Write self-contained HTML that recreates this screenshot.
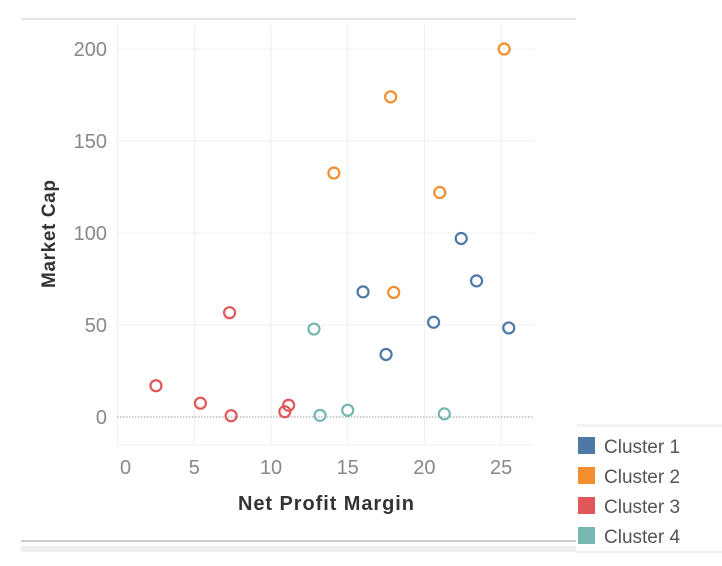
<!DOCTYPE html>
<html><head><meta charset="utf-8"><style>
body{margin:0;background:#fff;width:722px;height:561px;overflow:hidden;font-family:"Liberation Sans",sans-serif}
</style></head><body>
<svg width="722" height="561" xmlns="http://www.w3.org/2000/svg">
<line x1="21" y1="19" x2="576" y2="19" stroke="#dcdcdc" stroke-width="1.5"/>
<line x1="21" y1="541" x2="576" y2="541" stroke="#bbb" stroke-width="1.5"/>
<rect x="21" y="546" width="555" height="6" fill="#eee"/>
<rect x="577" y="424" width="145" height="3" fill="#f2f2f2"/>
<line x1="577" y1="552" x2="722" y2="552" stroke="#ddd"/>
<g id="grid"></g>
<g id="axes"></g>
<g id="marks"></g>
<text x="326" y="510" font-size="20" fill="#333" text-anchor="middle" font-weight="bold" textLength="176">Net Profit Margin</text>
<text transform="translate(55,234) rotate(-90)" font-size="19" fill="#333" text-anchor="middle" font-weight="bold" textLength="108">Market Cap</text>
<g id="legend"></g>
</svg>
<script>
const clusterNames=["Cluster 1","Cluster 2","Cluster 3","Cluster 4"];
const clusterColors=["#4e79a7","#f28e2b","#e15759","#76b7b2"];
const c1x=[16.0,17.5,20.6,22.4,23.4,25.5];
const c1y=[68,34,51.5,97,74,48.4];
const c2x=[14.1,17.8,18.0,21.0,25.2];
const c2y=[132.6,174,67.7,122,200];
const c3x=[2.5,5.4,7.3,7.4,10.9,11.15];
const c3y=[17,7.5,56.7,0.7,2.9,6.4];
const c4x=[12.8,13.2,15.0,21.3];
const c4y=[47.8,0.9,3.7,1.7];
const xTicks=[0,5,10,15,20,25];
const yTicks=[0,50,100,150,200];
const NS="http://www.w3.org/2000/svg";
function X(v){return 117.6+v*15.34;}
function Y(v){return 417-v*1.84;}
function mk(t,a,p){const e=document.createElementNS(NS,t);for(const k in a)e.setAttribute(k,a[k]);p.appendChild(e);return e;}
const grid=document.getElementById('grid'),axes=document.getElementById('axes'),marks=document.getElementById('marks'),legend=document.getElementById('legend');
xTicks.forEach(t=>{
 const g=mk('line',{x1:X(t),x2:X(t),y1:25,y2:445,stroke:'#efefef'},grid);
 
 
 const l=mk('text',{x:X(t)+(t===0?8:0),y:474,'font-size':20,fill:'#888','text-anchor':'middle'},axes);
 l.textContent=t;
 
 
});
yTicks.forEach(t=>{
 if(t!==0){const g=mk('line',{x1:117,x2:535,y1:Y(t),y2:Y(t),stroke:'#efefef'},grid);
 
 }
 const l=mk('text',{x:107,y:Y(t)+7,'font-size':20,fill:'#888','text-anchor':'end'},axes);
 l.textContent=t;
 
 
});
const bl=mk('line',{x1:117,x2:533,y1:445,y2:445,stroke:'#efefef'},grid);


const zl=mk('line',{x1:117,x2:533,y1:Y(0),y2:Y(0),stroke:'#999','stroke-dasharray':'1.5,1.5'},grid);


const series=[[c1x,c1y],[c2x,c2y],[c3x,c3y],[c4x,c4y]];
series.forEach((s,i)=>{
 s[0].forEach((xv,j)=>{
  const c=mk('circle',{cx:X(xv),cy:Y(s[1][j]),r:5.5,fill:'none',stroke:clusterColors[i],'stroke-width':2.2},marks);
  
  
 });
 const r=mk('rect',{x:578,y:437+i*30,width:17,height:17,fill:clusterColors[i]},legend);
 
 
 const t=mk('text',{x:604,y:453+i*30,'font-size':19,fill:'#555'},legend);
 t.textContent=clusterNames[i];
 
 
});
</script>
</body></html>
